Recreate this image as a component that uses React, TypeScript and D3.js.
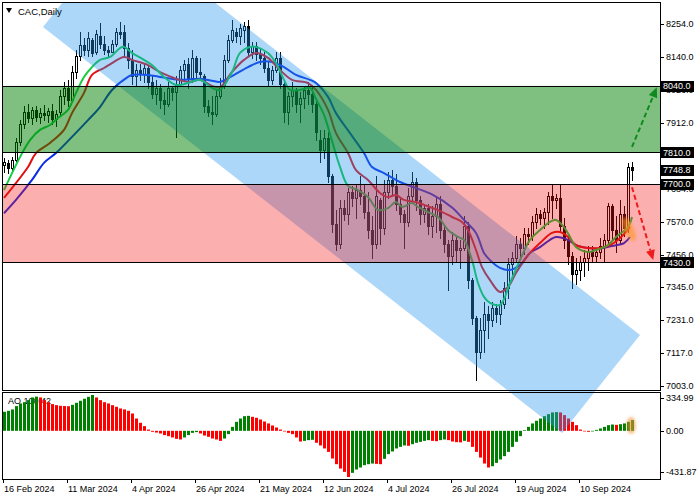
import React from "react";
import * as d3 from "d3";

// ---------- DATA ----------
const dateLabels = ["16 Feb 2024", "11 Mar 2024", "4 Apr 2024", "26 Apr 2024", "21 May 2024", "12 Jun 2024", "4 Jul 2024", "26 Jul 2024", "19 Aug 2024", "10 Sep 2024"];
const dateIndex = [0, 16, 32, 48, 64, 80, 96, 112, 128, 144];

const open = [
  7767, 7774, 7756, 7784, 7846, 7908, 7950, 7929, 7957, 7933,
  7946, 7940, 7953, 7926, 7950, 8005, 8033, 7991, 8088, 8143,
  8181, 8164, 8199, 8157, 8213, 8185, 8164, 8157, 8185, 8226,
  8226, 8171, 8130, 8074, 8095, 8081, 8102, 8054, 8012, 8033,
  7991, 7978, 8033, 8019, 8047, 8095, 8116, 8067, 8137, 8088,
  8074, 7971, 7950, 7943, 8005, 8040, 8130, 8199, 8226, 8213,
  8233, 8247, 8157, 8178, 8150, 8137, 8102, 8061, 8095, 8137,
  8047, 7950, 8005, 8026, 7978, 7998, 8026, 8012, 7978, 7853,
  7819, 7860, 7729, 7563, 7494, 7618, 7597, 7673, 7653, 7680,
  7660, 7604, 7542, 7494, 7646, 7549, 7673, 7715, 7694, 7632,
  7597, 7570, 7660, 7708, 7646, 7597, 7618, 7556, 7590, 7632,
  7542, 7494, 7452, 7508, 7473, 7480, 7556, 7369, 7238, 7120,
  7196, 7252, 7231, 7273, 7252, 7286, 7342, 7425, 7445, 7494,
  7480, 7528, 7521, 7570, 7597, 7584, 7604, 7660, 7646, 7653,
  7556, 7508, 7452, 7390, 7404, 7432, 7445, 7466, 7452, 7466,
  7487, 7508, 7625, 7542, 7508, 7597, 7549, 7760,
];
const high = [
  7791, 7784, 7794, 7860, 7922, 7971, 7978, 7967, 7971, 7964,
  7974, 7964, 7978, 7957, 8026, 8054, 8061, 8109, 8164, 8226,
  8206, 8226, 8206, 8233, 8258, 8213, 8178, 8199, 8240, 8261,
  8251, 8188, 8164, 8116, 8116, 8119, 8109, 8074, 8061, 8047,
  8019, 8054, 8040, 8074, 8109, 8130, 8137, 8164, 8143, 8137,
  8081, 7991, 8005, 8026, 8067, 8147, 8216, 8268, 8240, 8254,
  8261, 8268, 8192, 8192, 8171, 8157, 8123, 8109, 8157, 8157,
  8054, 8019, 8054, 8033, 8019, 8040, 8054, 8040, 7998, 7888,
  7888, 7881, 7736, 7611, 7646, 7646, 7687, 7694, 7701, 7729,
  7701, 7673, 7590, 7729, 7653, 7715, 7743, 7749, 7736, 7653,
  7611, 7687, 7743, 7722, 7660, 7632, 7632, 7625, 7653, 7660,
  7556, 7508, 7535, 7521, 7508, 7590, 7570, 7376, 7245, 7238,
  7293, 7279, 7293, 7286, 7300, 7362, 7445, 7466, 7521, 7514,
  7549, 7549, 7590, 7618, 7611, 7618, 7673, 7701, 7667, 7701,
  7584, 7521, 7466, 7445, 7452, 7473, 7487, 7487, 7480, 7514,
  7528, 7635, 7632, 7590, 7646, 7625, 7774, 7777,
];
const low = [
  7743, 7739, 7749, 7781, 7836, 7895, 7915, 7908, 7919, 7912,
  7922, 7915, 7908, 7902, 7940, 7978, 7971, 7984, 8067, 8130,
  8147, 8143, 8143, 8150, 8171, 8150, 8143, 8157, 8178, 8206,
  8143, 8102, 8047, 8040, 8061, 8054, 8033, 7998, 7978, 7964,
  7943, 7971, 7991, 7864, 8040, 8061, 8033, 8054, 8067, 8061,
  7950, 7936, 7908, 7936, 7998, 8033, 8123, 8192, 8192, 8185,
  8192, 8143, 8137, 8130, 8116, 8088, 8040, 8047, 8088, 8033,
  7915, 7908, 7971, 7950, 7915, 7964, 7978, 7950, 7853, 7777,
  7791, 7708, 7535, 7473, 7480, 7577, 7563, 7625, 7584, 7632,
  7584, 7514, 7445, 7480, 7494, 7528, 7653, 7667, 7611, 7570,
  7480, 7556, 7639, 7611, 7563, 7570, 7528, 7518, 7535, 7514,
  7466, 7335, 7425, 7432, 7411, 7473, 7342, 7217, 7024, 7100,
  7120, 7169, 7210, 7224, 7217, 7273, 7307, 7390, 7432, 7445,
  7459, 7494, 7508, 7549, 7563, 7549, 7563, 7584, 7618, 7535,
  7480, 7425, 7342, 7356, 7369, 7383, 7404, 7432, 7432, 7445,
  7432, 7494, 7508, 7466, 7494, 7521, 7535, 7715,
];
const close = [
  7777, 7756, 7784, 7846, 7908, 7950, 7929, 7957, 7933, 7946,
  7940, 7953, 7926, 7943, 8005, 8033, 7991, 8088, 8143, 8181,
  8164, 8206, 8154, 8219, 8185, 8164, 8157, 8185, 8226, 8219,
  8171, 8130, 8074, 8095, 8081, 8102, 8054, 8012, 8033, 7991,
  7978, 8033, 8019, 8047, 8095, 8116, 8067, 8137, 8088, 8081,
  7971, 7950, 7943, 8005, 8040, 8130, 8199, 8233, 8213, 8240,
  8247, 8157, 8178, 8150, 8137, 8102, 8061, 8095, 8137, 8047,
  7950, 8005, 8026, 7978, 7998, 8026, 8012, 7978, 7881, 7819,
  7860, 7729, 7563, 7494, 7618, 7597, 7673, 7653, 7680, 7660,
  7604, 7542, 7494, 7660, 7549, 7673, 7715, 7694, 7632, 7597,
  7570, 7660, 7708, 7646, 7597, 7618, 7556, 7590, 7632, 7542,
  7494, 7452, 7508, 7473, 7480, 7556, 7369, 7238, 7120, 7196,
  7252, 7231, 7273, 7252, 7286, 7342, 7425, 7445, 7494, 7480,
  7528, 7521, 7570, 7597, 7584, 7604, 7660, 7646, 7653, 7556,
  7508, 7452, 7390, 7404, 7432, 7445, 7466, 7452, 7466, 7487,
  7508, 7625, 7542, 7508, 7597, 7549, 7760, 7748.8,
];

// moving averages: [bar index, price]
const fastMA = [
  [0, 7680], [4, 7794], [6.5, 7853], [9, 7888], [11.5, 7905], [13.5, 7929], [16, 7957], [18, 8016],
  [20, 8071], [22, 8105], [24, 8130], [26.5, 8140], [29, 8171], [30, 8175], [32, 8154], [35, 8130],
  [37, 8112], [40, 8071], [43, 8043], [46, 8050], [49, 8061], [52, 8033], [54, 8026], [57, 8088],
  [59, 8154], [61.5, 8175], [63, 8175], [66, 8154], [68, 8119], [70, 8061], [71.5, 8026], [74, 8026],
  [76.5, 8033], [78, 7995], [80, 7940], [82, 7850], [84, 7760], [86, 7695], [88.5, 7680], [91, 7656],
  [93.5, 7611], [96, 7618], [98, 7639], [99.5, 7622], [102, 7635], [103.5, 7622], [106, 7604],
  [108.5, 7587], [111, 7542], [113.5, 7518], [115, 7508], [117, 7438], [118.5, 7359], [120, 7311],
  [121.5, 7290], [124, 7283], [126.5, 7359], [129, 7438], [131.5, 7508], [134, 7542], [136.5, 7570],
  [138, 7577], [140, 7552], [141.5, 7518], [143, 7483], [146, 7466], [148, 7473], [151, 7490],
  [153, 7518], [156, 7552], [157, 7587],
];
const midMA = [
  [0, 7653], [6, 7760], [8, 7808], [11.5, 7843], [15, 7888], [17, 7946], [20, 8016], [22, 8078],
  [25, 8102], [27, 8119], [30, 8140], [32, 8130], [36, 8112], [39, 8088], [46, 8054], [49, 8061],
  [52, 8040], [54, 8036], [57, 8088], [60, 8130], [63, 8154], [66, 8137], [69, 8095], [72, 8061],
  [76, 8050], [78, 8026], [81, 7957], [83, 7877], [86, 7808], [88, 7749], [91, 7715], [94, 7670],
  [96, 7656], [98, 7663], [100, 7646], [103, 7639], [105, 7629], [108.5, 7611], [112, 7587],
  [114.5, 7570], [116, 7542], [118, 7473], [119.5, 7414], [121.5, 7369], [124, 7328], [126, 7345],
  [128, 7394], [131.5, 7463], [134, 7497], [137, 7532], [139, 7535], [141, 7518], [143, 7490],
  [146, 7480], [149, 7480], [151.5, 7490], [154, 7514], [156.5, 7552],
];
const slowMA = [
  [0, 7600], [3, 7646], [7, 7715], [10, 7774], [13, 7808], [17, 7864], [21, 7922], [24, 7967],
  [27, 8026], [31, 8071], [32, 8078], [36, 8078], [39, 8071], [44, 8061], [49, 8065], [52, 8058],
  [54, 8054], [57, 8074], [61, 8105], [64, 8123], [67, 8123], [70, 8105], [73, 8078], [76.5, 8061],
  [78, 8050], [81, 8002], [83, 7946], [86.5, 7877], [90, 7808], [92, 7760], [95, 7739], [99, 7708],
  [103, 7687], [107, 7665], [112, 7620], [115, 7577], [118, 7532], [120, 7463], [121.5, 7438],
  [124, 7411], [126.5, 7404], [129, 7421], [131.5, 7463], [134, 7483], [136.5, 7508], [138, 7518],
  [141, 7508], [143, 7490], [146, 7480], [149, 7478], [152, 7487], [155, 7497], [156.5, 7518],
];

const ao = [
  178, 187, 200, 231, 256, 268, 287, 312, 320,
  312, 287, 268, 250, 240, 234, 232, 230,
  243, 262, 281, 300, 318, 334.99,
  312, 287, 268, 256, 240, 225, 209, 200, 187, 162, 115, 75, 44, 12, -9, -16, -25, -40, -50, -62, -75, -81,
  -62, -40, -19, -12,
  -25, -44, -56, -72, -81, -94,
  -72, -31, 37, 84, 115, 137, 140,
  131, 122, 106, 87, 69, 50, 31, 12, -6, -19, -31, -62, -100,
  -94, -87, -84,
  -112, -137, -165, -197, -259, -312, -353, -384, -431.87,
  -393, -362, -343, -321, -312, -306,
  -309, -312,
  -262, -218, -193, -165, -150, -137,
  -140,
  -125, -112, -103, -94, -87,
  -94, -97,
  -87, -81,
  -87, -100, -106, -108,
  -94,
  -103, -150, -197, -250, -306, -343,
  -331, -300, -268, -237, -197, -150, -103, -50, 6, 37, 69, 94, 115, 137, 156, 172, 175,
  172, 147, 115, 84, 53, 12, -3, -9,
  0, 9, 22, 37, 53, 59,
  56,
  62, 69, 84, 100.42,
];

const priceTicks = [8254, 8140, 8026, 7912, 7684, 7570, 7456, 7345, 7231, 7117, 7003];
const greenZone = [7810, 8040];
const redZone = [7430, 7700];
const levelPrices = [8040, 7810, 7700, 7430];
const lastPrice = 7748.8;
const aoTicks = [334.99, 0, -431.87];
const aoLast = 100.42;

// descending channel corners [bar index, price]
const channelIdx = [29.25, 159, 139.5, 9.75];
const channelPrice = [8582, 7179, 6841, 8244];
// forecast arrows [bar index, price]
const upArrow = [[157, 7829], [163.2, 8035]];
const downArrow = [[157, 7690], [162.3, 7438]];

const FONT = "'Liberation Sans', Arial, sans-serif";

export default function App() {
  const L = 3, R = 660, T = 3, B = 390, AT = 392, AB = 479;
  const x = d3.scaleLinear().domain([0, 164]).range([4, 660]);
  const y = d3.scaleLinear().domain([7003, 8254]).range([386, 24]);
  const ya = d3.scaleLinear().domain([-431.87, 334.99]).range([477, 395]);

  const line = d3
    .line<number[]>()
    .x((d) => x(d[0]))
    .y((d) => y(d[1]))
    .curve(d3.curveCatmullRom.alpha(0.5));

  const chanPts = channelIdx.map((v, k) => `${x(v)},${y(channelPrice[k])}`).join(" ");

  const arrow = (pts: number[][], color: string, key: string) => {
    const x1 = x(pts[0][0]), y1 = y(pts[0][1]), x2 = x(pts[1][0]), y2 = y(pts[1][1]);
    const ang = Math.atan2(y2 - y1, x2 - x1);
    const hl = 10, hw = 4.5;
    const bx = x2 - hl * Math.cos(ang), by = y2 - hl * Math.sin(ang);
    const px = -Math.sin(ang) * hw, py = Math.cos(ang) * hw;
    return (
      <g key={key}>
        <line x1={x1} y1={y1} x2={bx} y2={by} stroke={color} strokeWidth={2} strokeDasharray="5,3" />
        <polygon points={`${x2},${y2} ${bx + px},${by + py} ${bx - px},${by - py}`} fill={color} />
      </g>
    );
  };

  const fmt = (v: number) => v.toFixed(1);

  return (
    <svg width={700} height={500} style={{ display: "block", position: "absolute", left: 0, top: 0 }} fontFamily={FONT}>
      <defs>
        <clipPath id="mainClip"><rect x={L} y={T} width={R - L} height={B - T} /></clipPath>
        <clipPath id="aoClip"><rect x={L} y={AT} width={R - L} height={AB - AT} /></clipPath>
        <clipPath id="allClip"><rect x={L} y={T} width={R - L} height={AB - T} /></clipPath>
        <filter id="blur" x="-50%" y="-50%" width="200%" height="200%"><feGaussianBlur stdDeviation="1.6" /></filter>
      </defs>
      <rect x={0} y={0} width={700} height={500} fill="#fff" />

      <text x={8} y={404} fontSize={9} fill="#000">AO {aoLast.toFixed(2)}</text>

      {/* candles */}
      <g clipPath="url(#mainClip)">
        {close.map((c, i) => {
          const o = open[i];
          const X = Math.round(x(i));
          const hi = Math.max(high[i], o, c), lo = Math.min(low[i], o, c);
          const yTop = Math.round(y(Math.max(o, c)));
          const yBot = Math.round(y(Math.min(o, c)));
          const bull = c >= o;
          return (
            <g key={i}>
              <line x1={X + 0.5} x2={X + 0.5} y1={Math.round(y(hi))} y2={Math.round(y(lo)) + 1} stroke="#000" strokeWidth={1} />
              <rect x={X - 0.5} y={yTop + 0.5} width={2} height={Math.max(1, yBot - yTop)} fill={bull ? "#fff" : "#000"} stroke="#000" strokeWidth={1} />
            </g>
          );
        })}
        <path d={line(slowMA) || ""} fill="none" stroke="#0a2ae6" strokeWidth={2} />
        <path d={line(midMA) || ""} fill="none" stroke="#e01010" strokeWidth={2} />
        <path d={line(fastMA) || ""} fill="none" stroke="#10cc40" strokeWidth={2} />
      </g>

      {/* AO histogram */}
      <g clipPath="url(#aoClip)">
        {ao.map((v, i) => {
          const X = Math.round(x(i));
          const up = i === 0 || v > ao[i - 1];
          const y0 = ya(Math.max(v, 0)), y1 = ya(Math.min(v, 0));
          return <rect key={i} x={X - 1} y={y0} width={3} height={Math.max(0.6, y1 - y0)} fill={up ? "#008000" : "#ff0000"} />;
        })}
      </g>

      {/* channel */}
      <g clipPath="url(#allClip)">
        <polygon points={chanPts} fill="rgb(40,150,240)" fillOpacity={0.38} />
      </g>

      {/* zones */}
      <g clipPath="url(#mainClip)">
        <rect x={L} y={y(greenZone[1])} width={R - L} height={y(greenZone[0]) - y(greenZone[1])} fill="rgb(0,128,0)" fillOpacity={0.5} />
        <rect x={L} y={y(redZone[1])} width={R - L} height={y(redZone[0]) - y(redZone[1])} fill="rgb(245,20,20)" fillOpacity={0.34} />
        {levelPrices.map((p) => (
          <line key={p} x1={L} x2={R} y1={Math.round(y(p)) + 0.5} y2={Math.round(y(p)) + 0.5} stroke="#000" strokeWidth={1} />
        ))}
        <ellipse cx={x(156.2)} cy={y(7545)} rx={5} ry={13} transform={`rotate(-25 ${x(156.2)} ${y(7545)})`} fill="#ff9620" fillOpacity={0.6} filter="url(#blur)" />
        {arrow(upArrow, "#108a20", "up")}
        {arrow(downArrow, "#ee1c1c", "down")}
      </g>
      <g clipPath="url(#aoClip)">
        <ellipse cx={x(156.8)} cy={ya(aoLast / 2)} rx={4.5} ry={8.5} fill="#f29030" fillOpacity={0.6} filter="url(#blur)" />
      </g>

      {/* frames */}
      <rect x={L - 0.5} y={T - 0.5} width={R - L + 1} height={B - T + 1} fill="none" stroke="#000" strokeWidth={1} />
      <rect x={L - 0.5} y={AT + 0.5} width={R - L + 1} height={AB - AT} fill="none" stroke="#000" strokeWidth={1} />

      {/* price axis */}
      {priceTicks.map((p) => (
        <g key={p}>
          <line x1={R} x2={R + 4} y1={Math.round(y(p)) + 0.5} y2={Math.round(y(p)) + 0.5} stroke="#000" />
          <text x={R + 6} y={y(p)} dy="0.35em" fontSize={9} fill="#000">{fmt(p)}</text>
        </g>
      ))}
      {[...levelPrices, lastPrice].map((p) => (
        <g key={"b" + p}>
          <rect x={R + 1} y={Math.round(y(p)) - 5} width={33} height={11} fill="#000" />
          <text x={R + 3} y={y(p)} dy="0.35em" fontSize={9} fill="#fff">{fmt(p)}</text>
        </g>
      ))}

      {/* AO axis */}
      {aoTicks.map((v, k) => {
        const yy = k === 0 ? ya(v) + 3 : k === 2 ? ya(v) - 5 : ya(v);
        return (
          <g key={"a" + k}>
            <line x1={R} x2={R + 4} y1={Math.round(yy) + 0.5} y2={Math.round(yy) + 0.5} stroke="#000" />
            <text x={R + 6} y={yy} dy="0.35em" fontSize={9} fill="#000">{v.toFixed(2)}</text>
          </g>
        );
      })}

      {/* date axis */}
      {dateIndex.map((di, k) => {
        const X = Math.round(x(di)) - 1;
        return (
          <g key={"d" + k}>
            <line x1={X + 0.5} x2={X + 0.5} y1={AB} y2={AB + 4} stroke="#000" />
            <text x={X + 1} y={491.5} fontSize={9} fill="#000">{dateLabels[k]}</text>
          </g>
        );
      })}

      {/* title */}
      <polygon points="6,8 12,8 9,13" fill="#000" />
      <text x={18} y={14.5} fontSize={9.5} fill="#000">CAC,Daily</text>
    </svg>
  );
}
